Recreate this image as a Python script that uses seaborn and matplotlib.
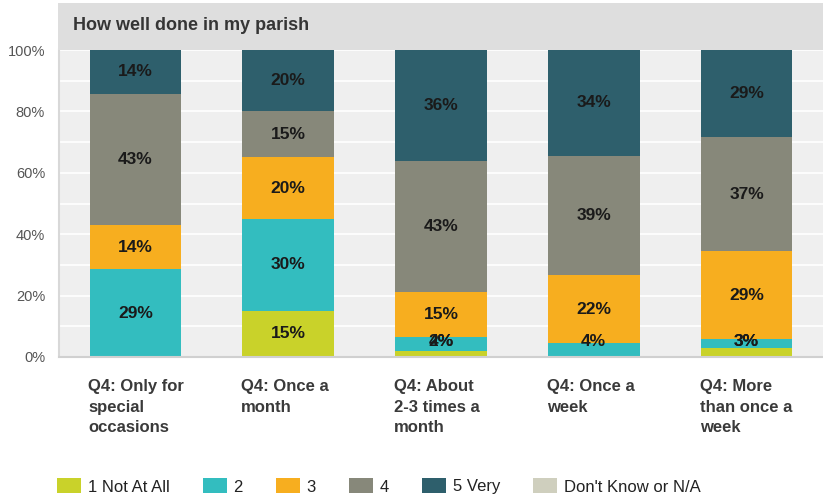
import numpy as np
import pandas as pd
import seaborn as sns
import matplotlib
matplotlib.use("Agg")
import matplotlib.pyplot as plt
from matplotlib.patches import Rectangle, Patch
from matplotlib.transforms import ScaledTranslation

# ---- data ----
categories = ["Q4: Only for\nspecial\noccasions", "Q4: Once a\nmonth",
              "Q4: About\n2-3 times a\nmonth", "Q4: Once a\nweek",
              "Q4: More\nthan once a\nweek"]
series_names = ["1 Not At All", "2", "3", "4", "5 Very", "Don't Know or N/A"]
not_at_all = [0.0, 15.0, 2.1, 0.0, 2.9]
two = [28.6, 30.0, 4.3, 4.4, 2.9]
three = [14.3, 20.0, 14.9, 22.2, 28.6]
four = [42.9, 15.0, 42.6, 39.0, 37.1]
very = [14.3, 20.0, 36.2, 34.4, 28.6]
dont_know = [0.0, 0.0, 0.0, 0.0, 0.0]
yticks = [0, 20, 40, 60, 80, 100]
title = "How well done in my parish"

colors = ["#c9d22a", "#33bdbf", "#f7ae1f", "#87887a", "#2e5f6c", "#cfcfbe"]

sns.set_style("white")
plt.rcParams["font.family"] = ["Liberation Sans", "DejaVu Sans"]

W, H = 823, 495
fig = plt.figure(figsize=(W / 100, H / 100), dpi=100)

# title band
fig.patches.append(Rectangle((58 / W, 1 - 50 / H), 1 - 58 / W, 47 / H,
                             transform=fig.transFigure, facecolor="#dedede",
                             edgecolor="none", zorder=0))
fig.text(73 / W, 1 - 25 / H, title, fontsize=13, fontweight="bold",
         color="#353535", va="center", ha="left")

ax = fig.add_axes([59 / W, 1 - 357 / H, (W - 59) / W, 307 / H])
ax.set_facecolor("#efefef")

all_series = [not_at_all, two, three, four, very, dont_know]
cum = np.cumsum(np.array(all_series), axis=0)

# draw from top-most cumulative down so lower segments cover upper ones
for k in range(len(all_series) - 1, -1, -1):
    df = pd.DataFrame({"cat": categories, "val": cum[k]})
    sns.barplot(data=df, x="cat", y="val", color=colors[k], saturation=1,
                width=0.6, ax=ax, zorder=2, linewidth=0, edgecolor="none")

# labels
for k, vals in enumerate(all_series):
    bottoms = cum[k] - np.array(vals)
    for i, v in enumerate(vals):
        if v <= 0:
            continue
        y = max(bottoms[i] + v / 2, 5)
        ax.text(i, y, "%.0f%%" % v, ha="center", va="center", fontsize=12.5,
                fontweight="bold", color="#1a1a1a", zorder=5)

ax.set_ylim(0, 100)
ax.set_xlim(-0.5, len(categories) - 0.5)
ax.set_yticks(yticks)
ax.set_yticklabels(["%d%%" % t for t in yticks], fontsize=10.5, color="#555555")
ax.set_yticks(np.arange(0, 101, 10), minor=True)
ax.grid(True, axis="y", which="both", color="white", linewidth=1.2, zorder=1)
ax.set_axisbelow(True)
ax.tick_params(axis="y", which="both", length=0, pad=10)
ax.tick_params(axis="x", length=0, pad=16)
ax.set_xlabel("")
ax.set_ylabel("")

ax.set_xticks(range(len(categories)))
lbls = ax.set_xticklabels(categories, fontsize=12, fontweight="bold",
                          color="#3a3a3a", ha="left", va="top",
                          linespacing=1.45)
offset = ScaledTranslation(-0.47, 0, fig.dpi_scale_trans)
for l in lbls:
    l.set_transform(l.get_transform() + offset)

for s in ["top", "right"]:
    ax.spines[s].set_visible(False)
ax.spines["left"].set_color("#d8d8d8")
ax.spines["bottom"].set_color("#d0d0d0")
ax.spines["left"].set_linewidth(1.5)
ax.spines["bottom"].set_linewidth(1.5)

handles = [Patch(facecolor=c, edgecolor="none") for c in colors]
fig.legend(handles, series_names, loc="lower left",
           bbox_to_anchor=(57 / W, 0.5 / H), ncol=6, frameon=False,
           fontsize=12, handlelength=1.44, handleheight=1.02,
           handletextpad=0.42, columnspacing=1.97, borderpad=0,
           borderaxespad=0, labelcolor="#222222")

fig.savefig("out.png", dpi=100)
